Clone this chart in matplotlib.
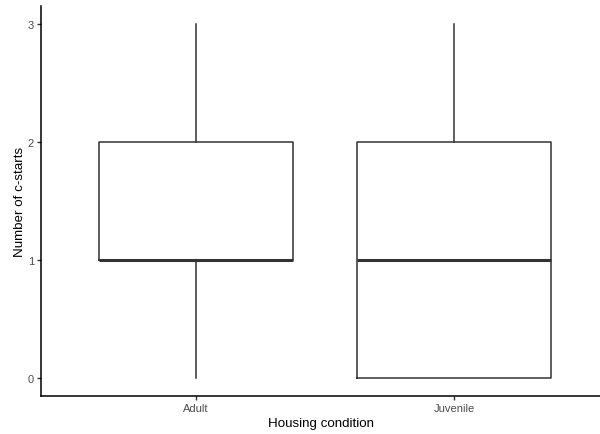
import matplotlib
matplotlib.use("Agg")
import matplotlib.pyplot as plt

plt.rcParams['font.family'] = ['Liberation Sans', 'DejaVu Sans']

# box summary per housing condition
groups = ['Adult', 'Juvenile']
whislo = [0, 0]
q1 = [1, 0]
med = [1, 1]
q3 = [2, 2]
whishi = [3, 3]
y_ticks = [0, 1, 2, 3]

stats = []
for g, lo, a, m, b, hi in zip(groups, whislo, q1, med, q3, whishi):
    stats.append(dict(label=g, whislo=lo, q1=a, med=m, q3=b, whishi=hi, fliers=[]))

fig = plt.figure(figsize=(6, 4.35), dpi=100)
ax = fig.add_axes([41/600, 38/435, 1 - 41/600, (397 - 7)/435])

line_col = '#333333'
ax.bxp(stats, positions=[1, 2], widths=0.75, showcaps=False, patch_artist=False,
       boxprops=dict(color=line_col, linewidth=1.1),
       whiskerprops=dict(color=line_col, linewidth=1.1),
       medianprops=dict(color=line_col, linewidth=2.2, solid_capstyle='butt'))

ax.set_xlim(0.4, 2.566)
ax.set_ylim(-0.15, 3.15)
ax.set_yticks(y_ticks)
ax.set_xticks([1, 2])
ax.set_xticklabels(groups)

for s in ['top', 'right']:
    ax.spines[s].set_visible(False)
for s in ['left', 'bottom']:
    ax.spines[s].set_color('black')
    ax.spines[s].set_linewidth(1.1)
ax.tick_params(colors='#333333', labelcolor='#4d4d4d', labelsize=8, length=3, width=1, pad=2)

ax.set_xlabel('Housing condition', fontsize=9.6, color='black', labelpad=3)
ax.set_ylabel('Number of c-starts', fontsize=9.6, color='black', labelpad=1)

fig.savefig('out.png', dpi=100)
